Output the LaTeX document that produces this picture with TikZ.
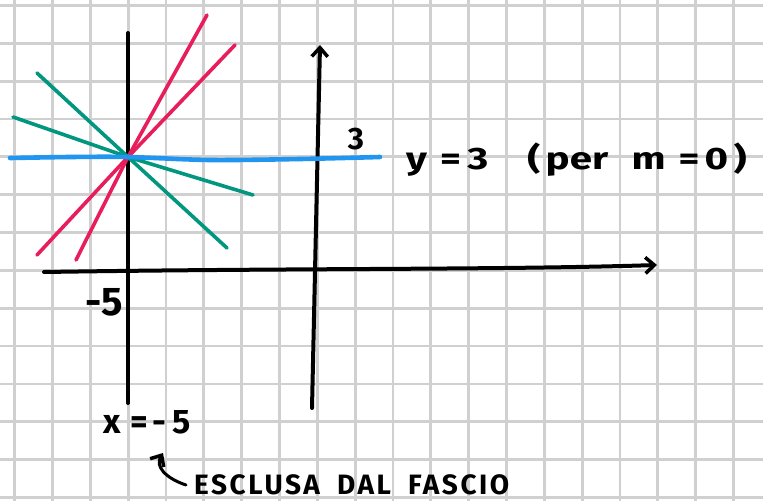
\documentclass[tikz,border=0pt]{standalone}
\usepackage{fontspec}
\usepackage{graphicx}
\setmainfont{Fira Sans}
\usetikzlibrary{arrows.meta}
\definecolor{gridgray}{RGB}{208,208,208}
\definecolor{fpink}{RGB}{232,30,92}
\definecolor{fgreen}{RGB}{0,150,128}
\definecolor{fblue}{RGB}{32,150,240}
\tikzset{
  axis/.style={line width=4pt, line cap=round, black},
  fline/.style={line width=3.6pt, line cap=round},
  hand/.style={inner sep=0pt, text=black, font=\bfseries},
  tip/.style={-{Straight Barb[length=9pt, width=16pt, line width=3.5pt]}}
}
\begin{document}
\begin{tikzpicture}[x=1pt, y=-1pt]
  \useasboundingbox (0,0) rectangle (763,501);
  \clip (0,0) rectangle (763,501);
  \fill[white] (0,0) rectangle (763,501);
  % Grid
  \foreach \k in {0,...,19}
    \draw[gridgray, line width=2.8pt] ({14.6+37.84*\k},0) -- ({14.6+37.84*\k},501);
  \foreach \k in {0,...,13}
    \draw[gridgray, line width=2.8pt] (0,{5.5+37.84*\k}) -- (763,{5.5+37.84*\k});
  % Axes
  \draw[axis] (128,33) -- (128,403);
  \draw[axis, tip] (44,272) .. controls (300,268) and (500,270) .. (657,265);
  \draw[axis, tip] (312,408) -- (320,45);
  % Centre of the pencil
  \coordinate (P) at (128,157);
  % Lines of the pencil
  \foreach \ax/\ay/\bx/\by in {76/260/207/15, 37/255/235/45}
    \draw[fline, fpink] (\ax,\ay) -- (P) -- (\bx,\by);
  \foreach \ax/\ay/\bx/\by in {37/73/227/248, 13/117/253/195}
    \draw[fline, fgreen] (\ax,\ay) -- (P) -- (\bx,\by);
  \draw[fline, fblue, line width=4.6pt] plot[smooth] coordinates {(10,158) (70,157) (P) (210,160) (300,159) (380,157)};
  % Labels
  \node[hand, font=\bfseries\fontsize{31}{33}\selectfont] (tre) at (356,139) {3};
  \node[hand, anchor=west, font=\bfseries\fontsize{31}{33}\selectfont] (yeq) at (406,160)
    {\scalebox{1.3}[1]{y\hspace{10pt}=\hspace{5pt}3\hspace{30pt}(\hspace{4pt}per\hspace{18pt}m\hspace{10pt}=\hspace{4pt}0\hspace{4pt})}};
  \node[hand, font=\bfseries\fontsize{40}{42}\selectfont] (meno) at (104,302) {-5};
  \node[hand, font=\bfseries\fontsize{34}{36}\selectfont] (xeq) at (147,422) {x\hspace{10pt}=\hspace{4pt}-\hspace{6pt}5};
  \node[hand, anchor=west, font=\bfseries\fontsize{28}{30}\selectfont\addfontfeature{LetterSpace=9}] (escl) at (194,485) {ESCLUSA\hspace{8pt} DAL\hspace{8pt} FASCIO};
  \draw[fline, black, line width=3pt, tip] ([xshift=-8pt]escl.west) .. controls (165,478) and (155,466) .. ([xshift=16pt, yshift=-19pt]xeq.south);
\end{tikzpicture}
\end{document}
